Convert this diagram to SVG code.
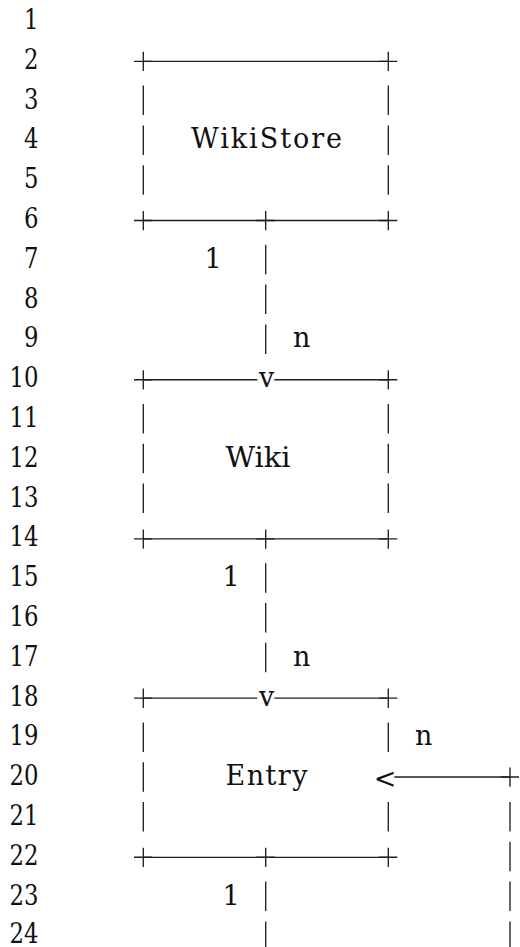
<svg xmlns="http://www.w3.org/2000/svg" xmlns:xlink="http://www.w3.org/1999/xlink" width="520" height="947" viewBox="0 0 520 947">
  <style>
    text { font-family: 'DejaVu Serif', 'Liberation Serif', serif; font-size: 27px; fill: #111; }
    .ln { text-anchor: end; }
    .mid { text-anchor: middle; }
    .r { stroke: #1f1f1f; stroke-width: 1.35; fill: none; }
  </style>
  <defs>
    <!-- corner / junction cross -->
    <path id="plus" class="r" d="M-9.3 0H9M0 -9.5V9.8"/>
    <!-- one character-high vertical bar, centred on a row -->
    <path id="bar" class="r" d="M0 -15.5V14"/>
  </defs>
  <rect width="520" height="947" fill="#fff"/>

  <!-- line numbers -->
  <g id="line-numbers">
    <text class="ln" x="38.5" y="29.0" textLength="14.5" lengthAdjust="spacingAndGlyphs">1</text>
    <text class="ln" x="38.5" y="68.8" textLength="14.5" lengthAdjust="spacingAndGlyphs">2</text>
    <text class="ln" x="38.5" y="108.6" textLength="14.5" lengthAdjust="spacingAndGlyphs">3</text>
    <text class="ln" x="38.5" y="148.4" textLength="14.5" lengthAdjust="spacingAndGlyphs">4</text>
    <text class="ln" x="38.5" y="188.2" textLength="14.5" lengthAdjust="spacingAndGlyphs">5</text>
    <text class="ln" x="38.5" y="228.0" textLength="14.5" lengthAdjust="spacingAndGlyphs">6</text>
    <text class="ln" x="38.5" y="267.8" textLength="14.5" lengthAdjust="spacingAndGlyphs">7</text>
    <text class="ln" x="38.5" y="307.6" textLength="14.5" lengthAdjust="spacingAndGlyphs">8</text>
    <text class="ln" x="38.5" y="347.4" textLength="14.5" lengthAdjust="spacingAndGlyphs">9</text>
    <text class="ln" x="38.5" y="387.2" textLength="29" lengthAdjust="spacingAndGlyphs">10</text>
    <text class="ln" x="38.5" y="427.0" textLength="29" lengthAdjust="spacingAndGlyphs">11</text>
    <text class="ln" x="38.5" y="466.8" textLength="29" lengthAdjust="spacingAndGlyphs">12</text>
    <text class="ln" x="38.5" y="506.6" textLength="29" lengthAdjust="spacingAndGlyphs">13</text>
    <text class="ln" x="38.5" y="546.4" textLength="29" lengthAdjust="spacingAndGlyphs">14</text>
    <text class="ln" x="38.5" y="586.2" textLength="29" lengthAdjust="spacingAndGlyphs">15</text>
    <text class="ln" x="38.5" y="626.0" textLength="29" lengthAdjust="spacingAndGlyphs">16</text>
    <text class="ln" x="38.5" y="665.8" textLength="29" lengthAdjust="spacingAndGlyphs">17</text>
    <text class="ln" x="38.5" y="705.6" textLength="29" lengthAdjust="spacingAndGlyphs">18</text>
    <text class="ln" x="38.5" y="745.4" textLength="29" lengthAdjust="spacingAndGlyphs">19</text>
    <text class="ln" x="38.5" y="785.2" textLength="29" lengthAdjust="spacingAndGlyphs">20</text>
    <text class="ln" x="38.5" y="825.0" textLength="29" lengthAdjust="spacingAndGlyphs">21</text>
    <text class="ln" x="38.5" y="864.8" textLength="29" lengthAdjust="spacingAndGlyphs">22</text>
    <text class="ln" x="38.5" y="904.6" textLength="29" lengthAdjust="spacingAndGlyphs">23</text>
    <text class="ln" x="38.5" y="942.6" textLength="29" lengthAdjust="spacingAndGlyphs">24</text>
  </g>

  <!-- WikiStore box, rows 2-6 -->
  <g id="node-wikistore">
    <path class="r" d="M143.3 61.3H388.3M143.3 220.5H388.3"/>
    <use xlink:href="#plus" x="143.3" y="61.3"/>
    <use xlink:href="#plus" x="388.3" y="61.3"/>
    <use xlink:href="#plus" x="143.3" y="220.5"/>
    <use xlink:href="#plus" x="388.3" y="220.5"/>
    <use xlink:href="#bar" x="143.3" y="101.1"/>
    <use xlink:href="#bar" x="143.3" y="140.9"/>
    <use xlink:href="#bar" x="143.3" y="180.7"/>
    <use xlink:href="#bar" x="388.3" y="101.1"/>
    <use xlink:href="#bar" x="388.3" y="140.9"/>
    <use xlink:href="#bar" x="388.3" y="180.7"/>
    <text x="191" y="148.4" textLength="151" lengthAdjust="spacing">WikiStore</text>
  </g>

  <!-- Wiki box, rows 10-14 -->
  <g id="node-wiki">
    <path class="r" d="M143.3 379.7H257.3M274.3 379.7H388.3M143.3 538.9H388.3"/>
    <use xlink:href="#plus" x="143.3" y="379.7"/>
    <use xlink:href="#plus" x="388.3" y="379.7"/>
    <use xlink:href="#plus" x="143.3" y="538.9"/>
    <use xlink:href="#plus" x="388.3" y="538.9"/>
    <use xlink:href="#bar" x="143.3" y="419.5"/>
    <use xlink:href="#bar" x="143.3" y="459.3"/>
    <use xlink:href="#bar" x="143.3" y="499.1"/>
    <use xlink:href="#bar" x="388.3" y="419.5"/>
    <use xlink:href="#bar" x="388.3" y="459.3"/>
    <use xlink:href="#bar" x="388.3" y="499.1"/>
    <text x="225.5" y="466.8" textLength="65" lengthAdjust="spacingAndGlyphs">Wiki</text>
  </g>

  <!-- Entry box, rows 18-22 -->
  <g id="node-entry">
    <path class="r" d="M143.3 698.1H257.3M274.3 698.1H388.3M143.3 857.3H388.3"/>
    <use xlink:href="#plus" x="143.3" y="698.1"/>
    <use xlink:href="#plus" x="388.3" y="698.1"/>
    <use xlink:href="#plus" x="143.3" y="857.3"/>
    <use xlink:href="#plus" x="388.3" y="857.3"/>
    <use xlink:href="#bar" x="143.3" y="737.9"/>
    <use xlink:href="#bar" x="143.3" y="777.7"/>
    <use xlink:href="#bar" x="143.3" y="817.5"/>
    <use xlink:href="#bar" x="388.3" y="737.9"/>
    <use xlink:href="#bar" x="388.3" y="817.5"/>
    <text x="225.5" y="785.2" textLength="82" lengthAdjust="spacing">Entry</text>
  </g>

  <!-- connectors -->
  <g id="connectors">
    <!-- WikiStore 1 : n Wiki -->
    <use xlink:href="#plus" x="265.7" y="220.5"/>
    <use xlink:href="#bar" x="265.7" y="260.3"/>
    <use xlink:href="#bar" x="265.7" y="300.1"/>
    <use xlink:href="#bar" x="265.7" y="339.9"/>
    <text class="mid" x="213" y="267.8">1</text>
    <text x="293" y="347.4">n</text>
    <text class="mid" x="266.7" y="387.2">v</text>

    <!-- Wiki 1 : n Entry -->
    <use xlink:href="#plus" x="265.7" y="538.9"/>
    <use xlink:href="#bar" x="265.7" y="578.7"/>
    <use xlink:href="#bar" x="265.7" y="618.5"/>
    <use xlink:href="#bar" x="265.7" y="658.3"/>
    <text class="mid" x="231" y="586.2">1</text>
    <text x="293" y="665.8">n</text>
    <text class="mid" x="266.7" y="705.6">v</text>

    <!-- Entry 1 : n Entry (self relation, leaves downward, returns from the right) -->
    <use xlink:href="#plus" x="265.7" y="857.3"/>
    <use xlink:href="#bar" x="265.7" y="897.1"/>
    <use xlink:href="#bar" x="265.7" y="936.9"/>
    <text class="mid" x="231" y="904.6">1</text>
    <text x="415" y="745.4">n</text>
    <text class="mid" x="385" y="787.5" font-size="31" font-weight="300">&lt;</text>
    <path class="r" d="M394.3 777H510"/>
    <use xlink:href="#plus" x="510" y="777"/>
    <use xlink:href="#bar" x="510" y="817.5"/>
    <use xlink:href="#bar" x="510" y="857.3"/>
    <use xlink:href="#bar" x="510" y="897.1"/>
    <use xlink:href="#bar" x="510" y="936.9"/>
  </g>
</svg>
